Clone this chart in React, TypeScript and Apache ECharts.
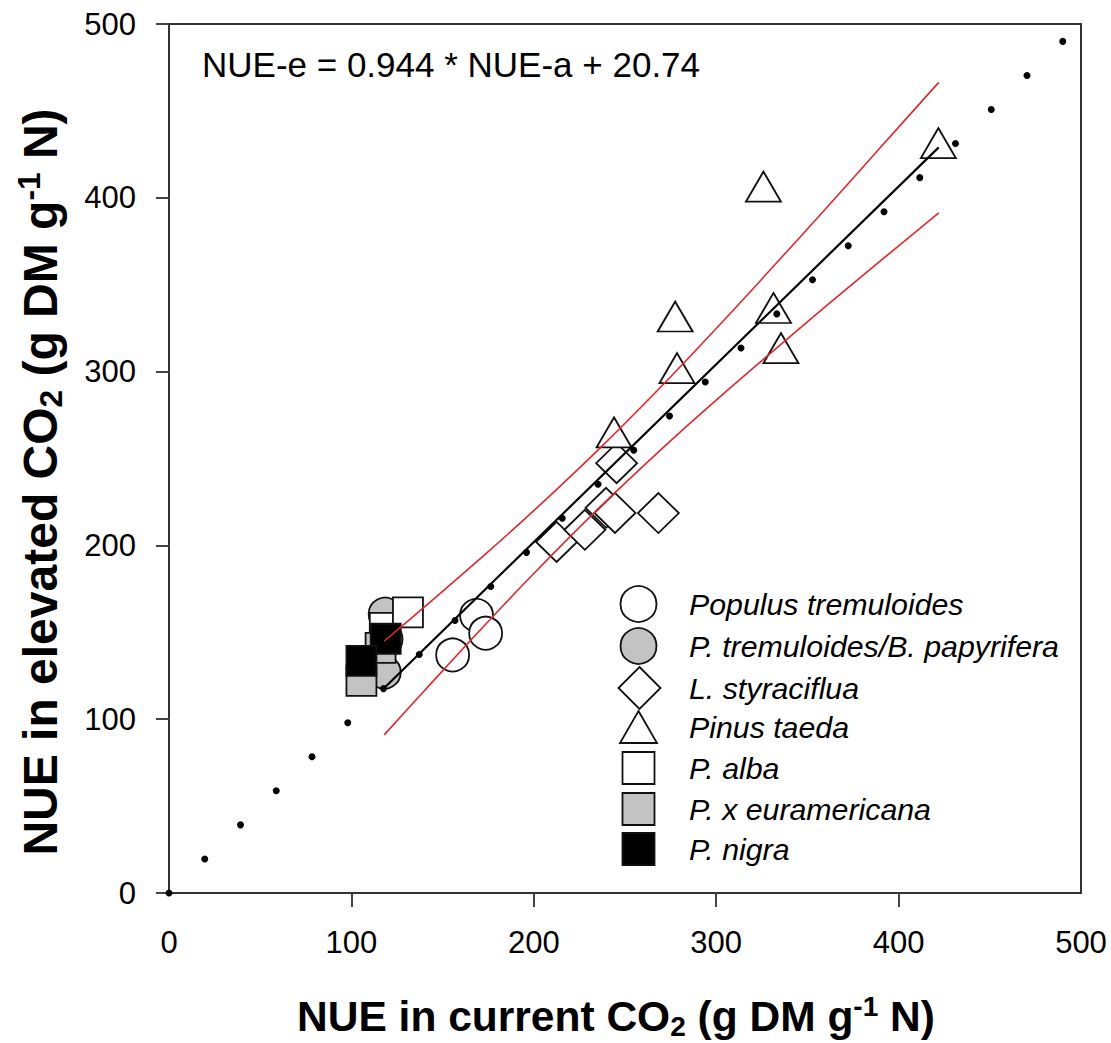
import React, { useEffect, useRef } from "react";
import * as echarts from "echarts";

// ---- data ----
const axisTicks = [0, 100, 200, 300, 400, 500];
const innerXTicks = [100, 200, 300, 400];

const speciesNames = [
  "Populus tremuloides",
  "P. tremuloides/B. papyrifera",
  "L. styraciflua",
  "Pinus taeda",
  "P. alba",
  "P. x euramericana",
  "P. nigra",
];

const populusTremuloides = [[155.5, 137], [168.6, 159.8], [173.6, 149.5]];
const tremuloidesPapyrifera = [[118.5, 160.5], [119, 146], [118, 127]];
const lStyraciflua = [[212.5, 202], [228, 209], [239.6, 221.6], [244.5, 218.7], [245.4, 247.3], [268.3, 218.6]];
const pinusTaeda = [[244, 265], [277.5, 331.7], [278.5, 302], [331.4, 336.6], [335.5, 313.5], [325.9, 406.4], [421.8, 431.5]];
const pAlba = [[118.3, 152.6], [131, 161.5]];
const pEuramericana = [[116, 141], [105.5, 122]];
const pNigra = [[118.8, 146.3], [105.5, 133.6]];

const oneToOneDots = [0, 19.6, 39.2, 58.8, 78.4, 98, 117.6, 137.2, 156.8, 176.4, 196, 215.6, 235.2, 254.8, 274.4, 294, 313.6, 333.2, 352.8, 372.4, 392, 411.6, 431.2, 450.8, 470.4, 490];

const fitX = [118, 422];
const fitY = [118, 429];

const bandX = [118, 140, 170, 200, 235, 270, 300, 330, 360, 390, 422];
const bandUpper = [145, 164.6, 191.8, 220, 254.7, 291.6, 324.8, 359, 393.7, 428.9, 466.4];
const bandLower = [91, 116.4, 150.6, 183.8, 220.7, 255.4, 283.6, 310.8, 337.5, 363.7, 391.3];

const equationText = "NUE-e = 0.944 * NUE-a + 20.74";

const FONT = "'Liberation Sans', Arial, Helvetica, sans-serif";
const GRAY = "#c3c3c3";
const RED = "#e3262b";

export default function App() {
  const ref = useRef<HTMLDivElement | null>(null);

  useEffect(() => {
    document.body.style.margin = "0";
    document.body.style.overflow = "hidden";
    if (!ref.current) return;
    const chart = echarts.init(ref.current, undefined, { renderer: "svg" });

    const markerBorder = { borderColor: "#111", borderWidth: 1.8, opacity: 1 };

    const zip = (xs: number[], ys: number[]) => xs.map((x, i) => [x, ys[i]]);

    const makeRich = (size: number) => ({
      sub: { fontSize: size * 0.66, fontWeight: "bold", fontFamily: FONT, fill: "#000", lineHeight: size * 0.78, verticalAlign: "bottom" },
      sup: { fontSize: size * 0.66, fontWeight: "bold", fontFamily: FONT, fill: "#000", lineHeight: size * 0.9, verticalAlign: "top" },
    });

    const legendRows = [604, 646, 688, 727, 768, 809, 849];
    const lx = 638.5;

    const legendGraphics: any[] = [
      { type: "circle", shape: { cx: lx, cy: legendRows[0], r: 18 }, style: { fill: "#fff", stroke: "#111", lineWidth: 1.8 } },
      { type: "circle", shape: { cx: lx, cy: legendRows[1], r: 18 }, style: { fill: GRAY, stroke: "#111", lineWidth: 1.8 } },
      {
        type: "polygon",
        shape: { points: [[lx + 1, legendRows[2] - 21], [lx + 22, legendRows[2]], [lx + 1, legendRows[2] + 21], [lx - 20, legendRows[2]]] },
        style: { fill: "#fff", stroke: "#111", lineWidth: 1.8 },
      },
      {
        type: "polygon",
        shape: { points: [[lx, legendRows[3] - 16], [lx + 18.5, legendRows[3] + 16], [lx - 18.5, legendRows[3] + 16]] },
        style: { fill: "#fff", stroke: "#111", lineWidth: 1.8 },
      },
      { type: "rect", shape: { x: lx - 16, y: legendRows[4] - 16, width: 32, height: 32 }, style: { fill: "#fff", stroke: "#111", lineWidth: 1.8 } },
      { type: "rect", shape: { x: lx - 16, y: legendRows[5] - 16, width: 32, height: 32 }, style: { fill: GRAY, stroke: "#111", lineWidth: 1.8 } },
      { type: "rect", shape: { x: lx - 16, y: legendRows[6] - 16, width: 32, height: 32 }, style: { fill: "#000", stroke: "#111", lineWidth: 1.8 } },
      ...speciesNames.map((name, i) => ({
        type: "text",
        x: 689,
        y: legendRows[i],
        style: {
          text: name,
          fontSize: 30.3,
          fontStyle: "italic",
          fontFamily: FONT,
          fill: "#000",
          verticalAlign: "middle",
          align: "left",
        },
      })),
    ];

    chart.setOption({
      animation: false,
      backgroundColor: "#fff",
      grid: {
        left: 169,
        top: 24,
        right: 30,
        bottom: 150,
        show: true,
        borderColor: "#333",
        borderWidth: 2,
        backgroundColor: "transparent",
      },
      xAxis: {
        type: "value",
        min: 0,
        max: 500,
        interval: 100,
        axisLine: { show: true, lineStyle: { color: "#333", width: 2 } },
        axisTick: { show: true, inside: false, length: 14, customValues: innerXTicks, lineStyle: { color: "#444", width: 2 } },
        axisLabel: { show: true, customValues: axisTicks, fontSize: 31, fontFamily: FONT, color: "#000", margin: 34 },
        splitLine: { show: false },
      },
      yAxis: {
        type: "value",
        min: 0,
        max: 500,
        interval: 100,
        axisLine: { show: true, lineStyle: { color: "#333", width: 2 } },
        axisTick: { show: true, inside: false, length: 13, lineStyle: { color: "#444", width: 2 } },
        axisLabel: { show: true, fontSize: 31, fontFamily: FONT, color: "#000", margin: 33 },
        splitLine: { show: false },
      },
      legend: { show: false },
      series: [
        {
          name: speciesNames[0], type: "scatter", data: populusTremuloides, symbol: "circle", symbolSize: 33,
          itemStyle: { color: "#fff", ...markerBorder },
        },
        {
          name: speciesNames[1], type: "scatter", data: tremuloidesPapyrifera, symbol: "circle", symbolSize: 33,
          itemStyle: { color: GRAY, ...markerBorder },
        },
        {
          name: speciesNames[2], type: "scatter", data: lStyraciflua, symbol: "diamond", symbolSize: [41, 40],
          itemStyle: { color: "#fff", ...markerBorder },
        },
        {
          name: speciesNames[3], type: "scatter", data: pinusTaeda, symbol: "triangle", symbolSize: [35, 30],
          itemStyle: { color: "#fff", ...markerBorder },
        },
        {
          name: speciesNames[4], type: "scatter", data: pAlba, symbol: "rect", symbolSize: 30,
          itemStyle: { color: "#fff", ...markerBorder },
        },
        {
          name: speciesNames[5], type: "scatter", data: pEuramericana, symbol: "rect", symbolSize: 30,
          itemStyle: { color: GRAY, ...markerBorder },
        },
        {
          name: speciesNames[6], type: "scatter", data: pNigra, symbol: "rect", symbolSize: 30,
          itemStyle: { color: "#000", ...markerBorder },
        },
        {
          name: "upper", type: "line", data: zip(bandX, bandUpper), showSymbol: false, symbol: "none", smooth: 0.4,
          lineStyle: { color: RED, width: 1.6 },
        },
        {
          name: "lower", type: "line", data: zip(bandX, bandLower), showSymbol: false, symbol: "none", smooth: 0.4,
          lineStyle: { color: RED, width: 1.6 },
        },
        {
          name: "fit", type: "line", data: zip(fitX, fitY), showSymbol: false, symbol: "none",
          lineStyle: { color: "#000", width: 2.2 },
        },
        {
          name: "1:1", type: "scatter", data: oneToOneDots.map((v) => [v, v]), symbol: "circle", symbolSize: 7,
          itemStyle: { color: "#000", opacity: 1 },
        },
      ],
      graphic: [
        {
          type: "text",
          x: 202,
          y: 64,
          style: { text: equationText, fontSize: 35, fontFamily: FONT, fill: "#000", verticalAlign: "middle", align: "left" },
        },
        {
          type: "text",
          x: 616,
          y: 1016,
          style: {
            text: "NUE in current CO{sub|2} (g DM g{sup|-1} N)",
            fontSize: 42.5,
            fontWeight: "bold",
            fontFamily: FONT,
            fill: "#000",
            lineHeight: 48,
            align: "center",
            verticalAlign: "middle",
            rich: makeRich(42.5),
          },
        },
        {
          type: "text",
          x: 40,
          y: 482,
          rotation: Math.PI / 2,
          style: {
            text: "NUE in elevated CO{sub|2} (g DM g{sup|-1} N)",
            fontSize: 48,
            fontWeight: "bold",
            fontFamily: FONT,
            fill: "#000",
            lineHeight: 54,
            align: "center",
            verticalAlign: "middle",
            rich: makeRich(48),
          },
        },
        ...legendGraphics,
      ],
    });

    return () => chart.dispose();
  }, []);

  return <div ref={ref} style={{ width: 1111, height: 1043 }} />;
}
